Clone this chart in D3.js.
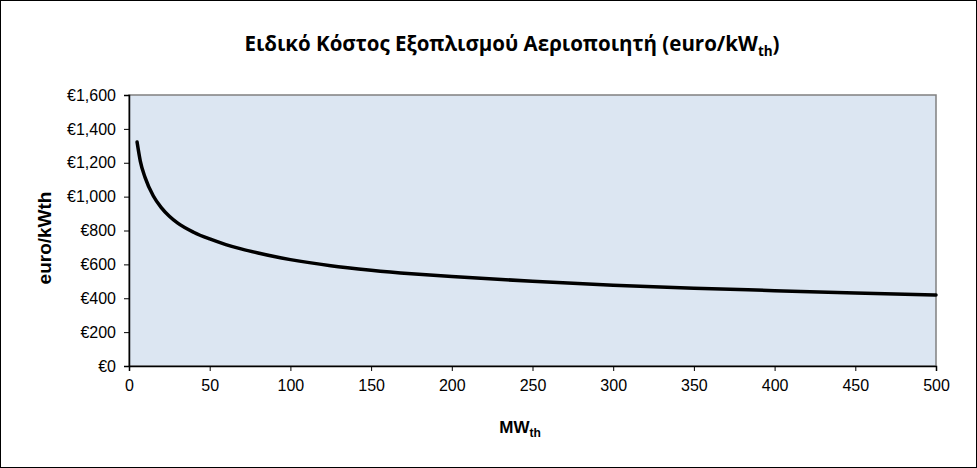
<!DOCTYPE html>
<html>
<head>
<meta charset="utf-8">
<script src="https://cdn.jsdelivr.net/npm/d3@7"></script>
<style>
  body { margin: 0; background: #fff; }
  svg text { fill: #000; }
</style>
</head>
<body>
<div id="chart"></div>
<script>
// capacity (MWth) and specific cost (euro/kWth)
var capacity = [5, 7, 10, 15, 20, 25, 30, 40, 50, 60, 70, 80, 90, 100, 125, 150, 175, 200, 250, 300, 350, 400, 450, 500];
var cost = [1322, 1210, 1112, 1005, 935, 884, 845, 790, 750, 717, 690, 667, 646, 628, 592, 566, 545, 528, 500, 477, 459, 445, 431, 419];
var xTicks = [0, 50, 100, 150, 200, 250, 300, 350, 400, 450, 500];
var yTicks = [0, 200, 400, 600, 800, 1000, 1200, 1400, 1600];

var width = 977, height = 468;
var margin = {top: 95, left: 129, right: 41, bottom: 102};

var svg = d3.select('#chart')
    .append('svg')
    .attr('width', width)
    .attr('height', height);

// outer frame
svg.append('rect')
    .attr('x', 0.5).attr('y', 0.5)
    .attr('width', width - 1).attr('height', height - 1)
    .attr('fill', '#fff')
    .attr('stroke', '#000');

var x = d3.scaleLinear()
    .domain([0, 500])
    .range([margin.left, width - margin.right]);

var y = d3.scaleLinear()
    .domain([0, 1600])
    .range([height - margin.bottom, margin.top]);

// plot area
svg.append('rect')
    .attr('x', x(0)).attr('y', y(1600))
    .attr('width', x(500) - x(0)).attr('height', y(0) - y(1600))
    .attr('fill', '#dce6f2')
    .attr('stroke', '#808080')
    .attr('stroke-width', 1.5);

var fmt = d3.format(',');

svg.append('g')
    .attr('transform', 'translate(' + x(0) + ',0)')
    .call(d3.axisLeft(y)
        .tickValues(yTicks)
        .tickSize(5)
        .tickPadding(8)
        .tickFormat(function(d) { return '€' + fmt(d) }));

svg.append('g')
    .attr('transform', 'translate(0,' + y(0) + ')')
    .call(d3.axisBottom(x)
        .tickValues(xTicks)
        .tickSize(5)
        .tickPadding(9)
        .tickFormat(function(d) { return d }));

svg.selectAll('.domain').attr('stroke', '#000').attr('stroke-width', 1.5);
svg.selectAll('.tick line').attr('stroke', '#000');
svg.selectAll('.tick text')
    .attr('font-family', '"Liberation Sans", Arial, sans-serif')
    .attr('font-size', 16);

// curve
var line = d3.line()
    .curve(d3.curveMonotoneX)
    .x(function(d, i) { return x(capacity[i]) })
    .y(function(d) { return y(d) });

svg.append('path')
    .datum(cost)
    .attr('d', line)
    .attr('fill', 'none')
    .attr('stroke', '#000')
    .attr('stroke-width', 3.5)
    .attr('stroke-linecap', 'round');

// title
var title = svg.append('text')
    .attr('x', 512)
    .attr('y', 51)
    .attr('text-anchor', 'middle')
    .attr('font-family', '"Open Sans", "Noto Sans", sans-serif')
    .attr('font-weight', 'bold')
    .attr('font-size', 20.5);
title.append('tspan').text('Ειδικό Κόστος Εξοπλισμού Αεριοποιητή (euro/kW');
title.append('tspan').attr('font-size', 13.5).attr('dy', 5).text('th');
title.append('tspan').attr('dy', -5).text(')');

// axis titles
svg.append('text')
    .attr('transform', 'translate(51,238) rotate(-90)')
    .attr('text-anchor', 'middle')
    .attr('font-family', '"Liberation Sans", Arial, sans-serif')
    .attr('font-weight', 'bold')
    .attr('font-size', 19)
    .text('euro/kWth');

var xt = svg.append('text')
    .attr('x', 520)
    .attr('y', 433)
    .attr('text-anchor', 'middle')
    .attr('font-family', '"Liberation Sans", Arial, sans-serif')
    .attr('font-weight', 'bold')
    .attr('font-size', 17);
xt.append('tspan').text('MW');
xt.append('tspan').attr('font-size', 12).attr('dy', 4).text('th');
</script>
</body>
</html>
